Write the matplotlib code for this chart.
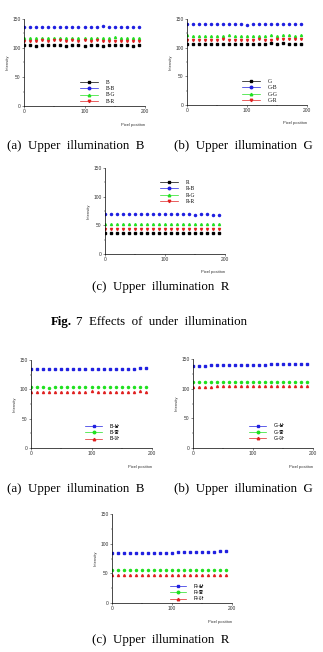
import matplotlib
matplotlib.use("Agg")
import matplotlib.pyplot as plt
import numpy as np

plt.rcParams['font.family'] = ['Liberation Sans', 'Noto Sans CJK KR', 'DejaVu Sans']

W, H = 323, 652
x = np.arange(0, 200, 10)

# Fig. 7 (upper illumination)
b_top = {
    'B':   [105, 105, 104, 105, 105, 106, 105, 104, 105, 105, 104, 105, 105, 103, 106, 106, 106, 105, 104, 105],
    'B-B': [137, 137, 136, 137, 137, 137, 137, 137, 136, 137, 136, 137, 137, 138, 136, 137, 137, 137, 136, 137],
    'B-G': [117, 117, 118, 117, 118, 118, 118, 117, 118, 117, 117, 118, 117, 117, 118, 119, 118, 118, 118, 118],
    'B-R': [112, 112, 112, 113, 112, 113, 113, 112, 113, 112, 113, 112, 113, 112, 112, 112, 112, 112, 112, 112],
}
g_top = {
    'G':   [107, 107, 106, 107, 107, 107, 107, 106, 107, 106, 106, 107, 107, 106, 108, 107, 108, 107, 107, 107],
    'G-B': [141, 141, 141, 141, 141, 141, 141, 141, 141, 141, 140, 141, 141, 141, 141, 141, 141, 142, 141, 141],
    'G-G': [122, 121, 121, 121, 121, 121, 121, 122, 121, 121, 121, 121, 121, 121, 122, 121, 122, 122, 121, 122],
    'G-R': [114, 114, 114, 114, 114, 114, 115, 114, 114, 114, 114, 114, 115, 114, 114, 115, 115, 115, 115, 115],
}
r_top = {
    'R':   [36, 36, 36, 36, 36, 36, 36, 36, 36, 36, 36, 36, 36, 36, 36, 36, 36, 36, 36, 36],
    'R-B': [69, 70, 70, 70, 69, 69, 69, 69, 69, 69, 69, 69, 69, 69, 69, 68, 69, 69, 68, 68],
    'R-G': [52, 52, 52, 52, 52, 52, 52, 52, 52, 52, 52, 52, 52, 52, 52, 52, 52, 52, 52, 52],
    'R-R': [43, 43, 44, 43, 43, 43, 43, 43, 43, 43, 43, 43, 43, 43, 43, 43, 43, 43, 43, 43],
}

# Fig. 8 (under illumination, top / middle / bottom)
b_bot = {
    'B-상': [134, 134, 134, 134, 135, 134, 134, 135, 135, 135, 135, 134, 135, 135, 135, 135, 135, 135, 136, 136],
    'B-중': [104, 104, 104, 103, 104, 104, 104, 104, 104, 104, 104, 104, 104, 104, 104, 104, 104, 104, 104, 104],
    'B-하': [96, 96, 96, 96, 96, 96, 96, 96, 96, 96, 97, 96, 96, 96, 96, 96, 96, 96, 97, 96],
}
g_bot = {
    'G-상': [139, 139, 139, 140, 140, 140, 140, 140, 140, 140, 140, 140, 140, 141, 141, 141, 141, 141, 141, 142],
    'G-중': [111, 111, 111, 111, 111, 111, 111, 111, 111, 111, 111, 111, 111, 111, 111, 112, 112, 112, 112, 112],
    'G-하': [103, 103, 103, 103, 104, 104, 104, 104, 104, 104, 104, 104, 104, 104, 104, 104, 105, 105, 105, 105],
}
r_bot = {
    'R-상': [85, 85, 85, 85, 85, 85, 85, 85, 85, 85, 85, 86, 86, 86, 86, 86, 86, 86, 87, 87],
    'R-중': [55, 55, 55, 55, 55, 55, 55, 55, 55, 55, 55, 55, 55, 55, 55, 55, 55, 55, 55, 55],
    'R-하': [47, 47, 47, 47, 47, 47, 47, 47, 47, 47, 47, 47, 47, 47, 47, 47, 47, 47, 47, 47],
}

top_styles = [('black', 's'), ('#2020e0', 'o'), ('#20e020', '^'), ('#e02020', 'v')]
bot_styles = [('#2020e0', 's'), ('#20e020', 'o'), ('#e02020', '^')]

fig = plt.figure(figsize=(W / 100, H / 100), dpi=100)


def add_panel(left, top, right, bottom, data, styles, leg_anchor, leg_font):
    ax = fig.add_axes([left / W, 1 - bottom / H, (right - left) / W, (bottom - top) / H])
    for (name, vals), (c, m) in zip(data.items(), styles):
        ax.plot(x, vals, ls='none', marker=m, ms=1.5, color=c, label=name)
    ax.set_xlim(0, 200)
    ax.set_ylim(0, 150)
    ax.set_xticks([0, 100, 200])
    ax.set_yticks([0, 50, 100, 150])
    ax.set_xticks([50, 150], minor=True)
    ax.set_yticks([25, 75, 125], minor=True)
    for s in ['top', 'right']:
        ax.spines[s].set_visible(False)
    for s in ['left', 'bottom']:
        ax.spines[s].set_linewidth(0.5)
    ax.tick_params(labelsize=3.5, width=0.4, length=1.5, pad=1, colors='#333333')
    ax.tick_params(which='minor', width=0.3, length=1)
    ax.set_ylabel('Intensity', fontsize=3, labelpad=2, color='#333333')
    ax.text(1.0, -0.19, 'Pixel position', transform=ax.transAxes, fontsize=3,
            ha='right', va='top', color='#333333')
    handles = []
    for (name, vals), (c, m) in zip(data.items(), styles):
        h, = ax.plot([], [], color=c, marker=m, ms=1.8, lw=0.5, label=name)
        handles.append(h)
    ax.legend(handles=handles, loc='upper left', bbox_to_anchor=leg_anchor,
              frameon=False, handlelength=3.2, handletextpad=1.4,
              labelspacing=0.25, prop=leg_font)
    return ax


serif_leg = {'family': 'Liberation Serif', 'size': 4}
sans_leg = {'family': ['Liberation Sans', 'Noto Sans CJK KR'], 'size': 3.8}

add_panel(24, 19, 145, 106, b_top, top_styles, (0.42, 0.36), serif_leg)
add_panel(187, 19, 307, 105, g_top, top_styles, (0.42, 0.36), serif_leg)
add_panel(105, 168, 225, 254, r_top, top_styles, (0.42, 0.92), serif_leg)
add_panel(31, 360, 152, 448, b_bot, bot_styles, (0.41, 0.33), sans_leg)
add_panel(193, 359, 313, 448, g_bot, bot_styles, (0.43, 0.33), sans_leg)
add_panel(112, 514, 232, 603, r_bot, bot_styles, (0.44, 0.27), sans_leg)

cap = {'family': 'Liberation Serif', 'fontsize': 9.3, 'ha': 'center', 'va': 'center'}
fig.text(76 / W, 1 - 146 / H, '(a)  Upper  illumination  B', **cap)
fig.text(243 / W, 1 - 146 / H, '(b)  Upper  illumination  G', **cap)
fig.text(161 / W, 1 - 287 / H, '(c)  Upper  illumination  R', **cap)
fig.text(76 / W, 1 - 489 / H, '(a)  Upper  illumination  B', **cap)
fig.text(243 / W, 1 - 489 / H, '(b)  Upper  illumination  G', **cap)
fig.text(161 / W, 1 - 640 / H, '(c)  Upper  illumination  R', **cap)
fig.text(72 / W, 1 - 322 / H, 'Fig.', family='Liberation Serif', fontsize=9.3,
         fontweight='bold', ha='right', va='center')
fig.text(76 / W, 1 - 322 / H, '7  Effects  of  under  illumination',
         family='Liberation Serif', fontsize=9.3, ha='left', va='center')

fig.savefig('out.png', dpi=100)
